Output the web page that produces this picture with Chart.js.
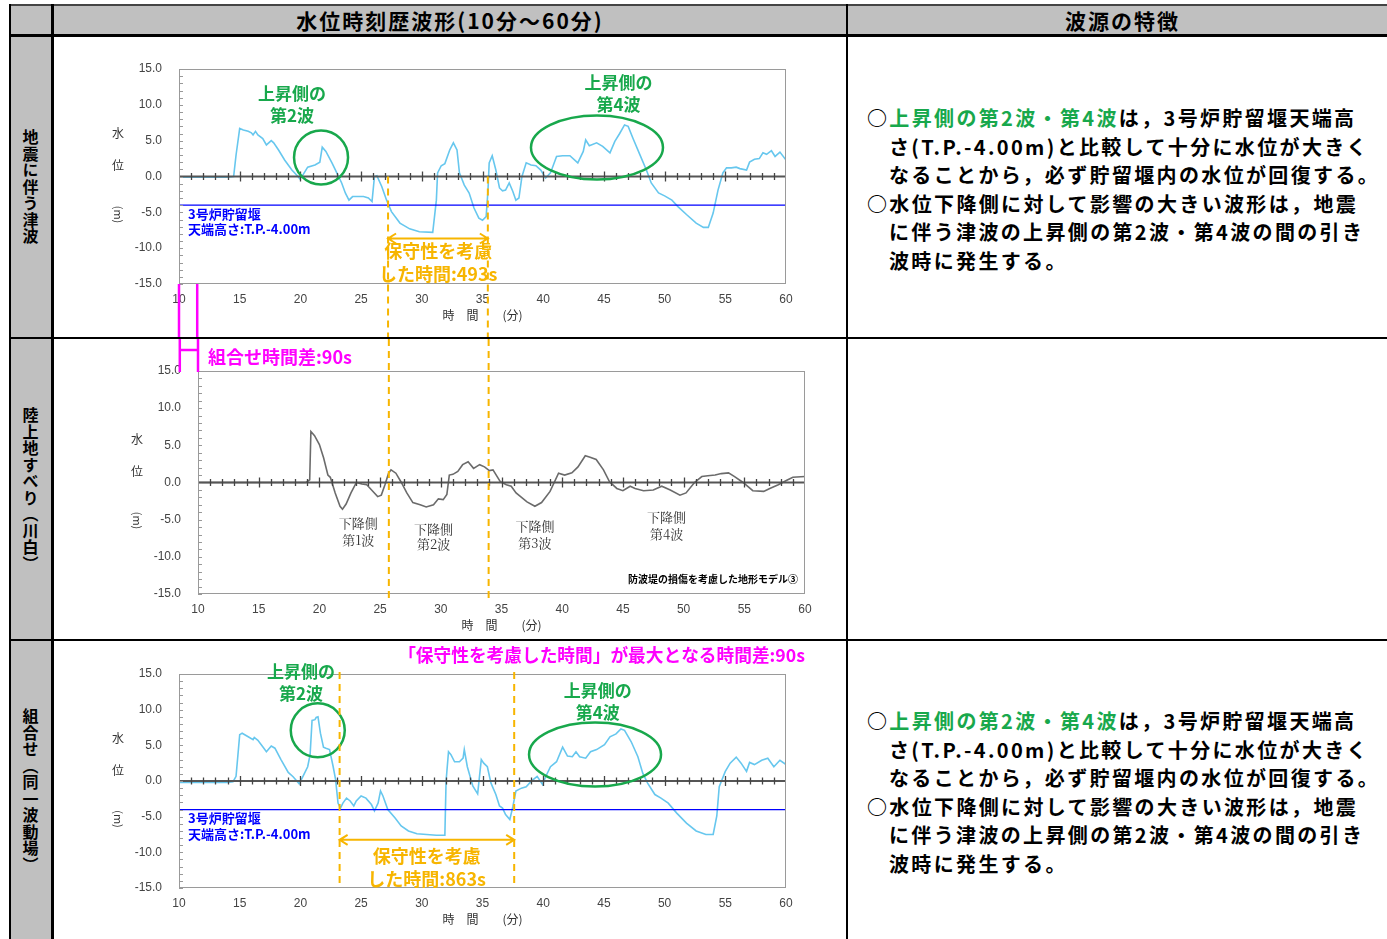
<!DOCTYPE html>
<html lang="ja">
<head>
<meta charset="utf-8">
<script src="https://cdn.jsdelivr.net/npm/chart.js@4.4.1/dist/chart.umd.min.js"></script>
<style>
body{margin:0;width:1387px;height:939px;overflow:hidden;background:#fff;position:relative;font-family:"Noto Sans CJK JP",sans-serif}
.fill{position:absolute;background:#c0c0c0}
.ln{position:absolute;background:#000;z-index:5}
.hd{position:absolute;top:5px;height:30px;line-height:30px;text-align:center;font-weight:700;font-size:21px;letter-spacing:2px;color:#000}
.side{position:absolute;left:9px;width:43px;display:flex;align-items:center;justify-content:center}
.side span{writing-mode:vertical-rl;font-weight:700;font-size:16px;letter-spacing:0.5px;color:#000}
.note{position:absolute;left:867px;font-weight:700;font-size:20px;letter-spacing:2.35px;line-height:28.6px;white-space:nowrap;color:#000}
.note p{margin:0;padding-left:22px;text-indent:-22px}
.g{color:#18a84c}
canvas{position:absolute;left:54px}
</style>
</head>
<body>
<div class="fill" style="left:9px;top:4px;width:1378px;height:32px"></div>
<div class="fill" style="left:9px;top:4px;width:44px;height:935px"></div>

<div class="hd" style="left:54px;width:792px">水位時刻歴波形(10分～60分)</div>
<div class="hd" style="left:848px;width:549px">波源の特徴</div>

<div class="side" style="top:37px;height:300px"><span>地震に伴う津波</span></div>
<div class="side" style="top:339px;height:300px"><span>陸上地すべり（川白）</span></div>
<div class="side" style="top:641px;height:298px"><span>組合せ（同一波動場）</span></div>

<div class="note" style="top:104px">
<p>○<span class="g">上昇側の第2波・第4波</span>は，3号炉貯留堰天端高<br>さ(T.P.-4.00m)と比較して十分に水位が大きく<br>なることから，必ず貯留堰内の水位が回復する。</p>
<p>○水位下降側に対して影響の大きい波形は，地震<br>に伴う津波の上昇側の第2波・第4波の間の引き<br>波時に発生する。</p>
</div>
<div class="note" style="top:707px">
<p>○<span class="g">上昇側の第2波・第4波</span>は，3号炉貯留堰天端高<br>さ(T.P.-4.00m)と比較して十分に水位が大きく<br>なることから，必ず貯留堰内の水位が回復する。</p>
<p>○水位下降側に対して影響の大きい波形は，地震<br>に伴う津波の上昇側の第2波・第4波の間の引き<br>波時に発生する。</p>
</div>

<canvas id="c1" width="792" height="300" style="top:37px"></canvas>
<canvas id="c2" width="792" height="300" style="top:339px"></canvas>
<canvas id="c3" width="792" height="298" style="top:641px"></canvas>

<div class="ln" style="left:9px;top:4px;width:1378px;height:2px;background:#444"></div>
<div class="ln" style="left:9px;top:4px;width:2px;height:935px"></div>
<div class="ln" style="left:51px;top:4px;width:3px;height:935px"></div>
<div class="ln" style="left:846px;top:4px;width:2px;height:935px"></div>
<div class="ln" style="left:9px;top:34px;width:1378px;height:3px"></div>
<div class="ln" style="left:9px;top:337px;width:1378px;height:2px"></div>
<div class="ln" style="left:9px;top:639px;width:1378px;height:2px"></div>

<script>
// tick values
const xTicks = [10, 15, 20, 25, 30, 35, 40, 45, 50, 55, 60];
const yTicks = [-15, -10, -5, 0, 5, 10, 15];

// reference lines (time in min, level in m)
const baseT = [10, 60];
const zeroH = [0, 0];
const weirH = [-4, -4];   // 3号炉貯留堰 天端高さ T.P.-4.00m

// 地震に伴う津波
const eqT = [10, 11, 12, 13, 14, 14.5, 14.7, 15.0, 15.3, 15.7, 15.96, 16.1, 16.3, 16.5, 16.9, 17.2, 17.6, 17.8, 18.2, 18.7,
  19.3, 19.8, 19.95, 20.2, 20.6, 21.2, 21.6, 21.8, 22.1, 22.6, 23.0, 23.4, 23.7, 24.0, 24.3, 25.2, 25.6, 25.9, 26.1, 26.3,
  26.7, 27.1, 27.5, 28.2, 29.0, 29.8, 30.9, 31.2, 31.3, 31.6, 31.9, 32.3, 32.6, 32.9, 33.1, 33.5, 33.9, 34.3, 34.7, 35.0,
  35.3, 35.45, 35.55, 35.8, 36.1, 36.4, 36.65, 36.9, 37.2, 37.5, 37.75, 38.0, 38.25, 38.6, 39.0, 39.4, 39.8, 40.2, 40.6, 41.1,
  41.6, 42.2, 42.85, 43.3, 43.5, 43.8, 44.4, 44.9, 45.5, 45.9, 46.3, 46.7, 47.0, 47.4, 47.9, 48.5, 48.9, 49.5, 50.0, 50.6,
  51.1, 51.8, 52.6, 53.2, 53.6, 54.0, 54.4, 54.8, 55.1, 55.5, 55.9, 56.2, 56.75, 57.0, 57.4, 57.8, 58.1, 58.4, 58.8, 59.1,
  59.5, 60];
const eqH = [-0.1, -0.1, -0.1, -0.1, -0.1, 0, 3.0, 6.7, 6.5, 6.3, 6.1, 5.8, 6.3, 5.8, 5.3, 4.4, 5.0, 4.7, 3.7, 2.3,
  0.9, 0, -0.3, 0.2, 1.3, 1.6, 2.0, 4.1, 3.5, 1.9, 0.5, -0.9, -2.3, -3.3, -2.8, -2.8, -3.0, -3.5, 0, 0.1,
  -1.4, -3.3, -4.9, -6.5, -7.3, -7.7, -7.8, -3.3, 0.5, 1.5, 1.8, 3.7, 4.7, 3.7, 0.5, -1.2, -2.3, -4.4, -5.8, -6.1,
  -5.6, -2.0, 1.9, 2.9, 0.9, -1.6, -2.0, -1.9, -0.9, -2.1, -3.3, -3.0, 0, 1.9, 1.6, 1.5, 0.9, -0.2, 0.5, 2.8,
  2.9, 2.9, 1.9, 3.5, 5.1, 4.3, 4.7, 4.2, 3.3, 4.9, 6.0, 7.2, 7.0, 5.3, 3.3, 0.9, -0.9, -2.3, -2.7, -3.3,
  -4.2, -5.3, -6.5, -7.1, -7.1, -5.1, -1.9, 0.5, 1.2, 1.2, 1.3, 1.1, 0.9, 2.0, 2.4, 2.5, 3.3, 3.1, 3.6, 2.8,
  3.4, 2.3];

// 陸上地すべり（川白）
const lsT = [10, 12, 14, 16, 18, 18.9, 19.2, 19.3, 19.6, 20.0, 20.35, 20.7, 20.9, 21.3, 21.7, 21.9, 22.2, 22.6, 23.05, 23.5,
  23.9, 24.3, 24.8, 25.1, 25.4, 25.7, 25.9, 26.3, 26.75, 27.2, 27.7, 28.3, 28.8, 29.4, 29.8, 30.2, 30.5, 30.7, 31.0, 31.4,
  31.8, 32.25, 32.7, 33.2, 33.6, 34.0, 34.3, 34.9, 35.4, 35.8, 36.2, 37.1, 37.75, 38.3, 39.0, 39.7, 40.2, 40.8, 41.3, 41.9,
  42.3, 42.8, 43.4, 43.9, 44.5, 45.0, 45.6, 46.0, 46.7, 47.5, 48.2, 48.9, 49.7, 50.2, 50.9, 51.5, 52.0, 52.6, 53.1, 53.7,
  54.2, 54.9, 55.7, 56.6, 57.1, 57.8, 58.5, 59.0, 60];
const lsH = [0, 0, 0, 0, 0, 0, 0.35, 6.85, 6.3, 5.1, 3.3, 1.0, 0.7, -1.4, -3.2, -3.6, -2.9, -1.4, 0, -0.2,
  -0.3, -1.0, -1.9, -1.7, -0.3, 1.25, 1.7, 1.25, 0, -1.4, -2.7, -3.0, -3.3, -3.0, -2.2, -2.3, -1.6, 1.0, 1.1, 1.5,
  2.4, 2.8, 1.9, 2.4, 2.1, 1.6, 1.7, 0.1, -0.3, -0.5, -1.4, -2.6, -3.2, -2.7, -1.2, 1.25, 1.0, 1.3, 2.1, 3.6,
  3.4, 3.1, 1.7, 0.1, -0.8, -1.1, -0.5, -0.8, -1.1, -1.0, -0.5, -1.0, -1.7, -1.4, 0, 0.8, 0.9, 1.0, 1.2, 1.3,
  0.8, 0, -1.1, -1.2, -0.8, -0.3, 0.3, 0.7, 0.8];

// 組合せ（同一波動場）
const cbT = [10, 12, 14, 14.45, 14.7, 15.0, 15.2, 15.7, 16.1, 16.2, 16.5, 16.9, 17.2, 17.6, 17.9, 18.4, 19.0, 19.4, 19.9, 20.2,
  20.6, 20.8, 20.96, 21.2, 21.3, 21.45, 21.65, 21.9, 22.1, 22.4, 22.7, 22.9, 23.1, 23.3, 23.5, 23.8, 24.1, 24.4, 24.6, 25.0,
  25.4, 25.85, 26.1, 26.4, 26.6, 26.8, 27.2, 27.8, 28.3, 28.9, 29.6, 30.4, 31.2, 31.9, 32.0, 32.2, 32.4, 32.7, 33.1, 33.4,
  33.5, 33.75, 34.2, 34.6, 34.9, 35.1, 35.4, 35.7, 36.1, 36.4, 36.65, 36.9, 37.25, 37.5, 37.75, 38.2, 38.6, 39.0, 39.5, 39.95,
  40.2, 40.6, 41.1, 41.6, 42.0, 42.4, 42.7, 43.0, 43.5, 43.9, 44.4, 45.05, 45.5, 46.0, 46.4, 46.7, 47.25, 47.8, 48.2, 48.6,
  49.2, 49.7, 50.3, 51.0, 51.8, 52.6, 53.4, 54.0, 54.3, 54.5, 55.0, 55.4, 55.9, 56.3, 56.75, 57.0, 57.4, 58.0, 58.5, 59.0,
  59.5, 60];
const cbH = [-0.2, -0.2, -0.2, -0.1, 0.65, 6.5, 6.7, 6.2, 5.8, 6.1, 5.7, 4.8, 4.1, 4.9, 4.6, 3.0, 1.2, 0.6, -0.4, 0.6,
  2.0, 3.7, 8.5, 8.6, 8.9, 9.0, 6.7, 4.75, 4.6, 4.4, 2.0, 0.2, -3.1, -3.8, -3.1, -2.4, -2.8, -3.5, -2.8, -2.1,
  -2.4, -3.3, -4.2, -3.1, -1.4, -2.1, -4.0, -5.2, -6.3, -7.0, -7.4, -7.5, -7.6, -7.6, 0, 4.1, 3.7, 2.7, 2.7, 3.2,
  4.4, 2.0, -0.7, -1.8, 3.0, 2.5, 2.0, -0.3, -1.9, -3.5, -3.8, -4.7, -5.4, -3.6, -1.4, -1.0, -0.8, -0.05, 0.65, -0.5,
  0.6, 2.0, 2.7, 4.75, 3.5, 3.4, 4.1, 3.4, 3.2, 4.1, 4.4, 5.1, 6.2, 6.6, 7.3, 7.1, 5.5, 3.4, 1.1, -0.3,
  -1.9, -2.4, -3.1, -4.5, -5.9, -7.0, -7.5, -7.5, -4.9, -0.8, 1.35, 2.5, 3.35, 2.5, 1.35, 2.6, 2.3, 2.9, 3.2, 2.0,
  2.9, 2.3];

// 保守性を考慮した時間 (min): 493 s / 863 s, 組合せ時間差 90 s
const eqWindow = [27.22, 35.44];
const lsWindow = [25.72, 33.94];
const cbWindow = [23.23, 37.61];
const lagMarks = [10, 11.5];

const GREEN = '#18a84c', ORANGE = '#f7b500', MAGENTA = '#ff00ff', BLUE = '#0000ff';
const JP = '"Noto Sans CJK JP", sans-serif';
const pts = (t, h) => t.map((x, i) => ({ x, y: h[i] }));

// position helper: number = data value, [edge, offset] = pixel from an edge
function pos(chart, axis, v) {
  if (typeof v === 'number') return chart.scales[axis].getPixelForValue(v);
  const a = chart.chartArea;
  const base = { top: a.top, bottom: a.bottom, left: a.left, right: a.right, ctop: 0, cbottom: chart.height }[v[0]];
  return base + v[1];
}

function overlay(items) {
  return {
    id: 'overlay',
    afterDatasetsDraw(chart) {
      const ctx = chart.ctx, a = chart.chartArea, xs = chart.scales.x, ys = chart.scales.y;
      ctx.save();
      ctx.strokeStyle = '#9a9a9a'; ctx.lineWidth = 1;
      ctx.strokeRect(a.left + 0.5, a.top + 0.5, a.width - 1, a.height - 1);
      // minor ticks inside the left frame
      ctx.strokeStyle = '#999';
      for (let v = -15; v <= 15; v++) {
        const y = Math.round(ys.getPixelForValue(v)) + 0.5;
        ctx.beginPath(); ctx.moveTo(a.left, y); ctx.lineTo(a.left + 4, y); ctx.stroke();
      }
      // minute ticks on the zero line
      const y0 = ys.getPixelForValue(0);
      ctx.strokeStyle = '#444'; ctx.lineWidth = 1.3;
      for (let m = 11; m < 60; m++) {
        const x = Math.round(xs.getPixelForValue(m)) + 0.5, h = m % 5 === 0 ? 5 : 3.5;
        ctx.beginPath(); ctx.moveTo(x, y0 - h); ctx.lineTo(x, y0 + h); ctx.stroke();
      }
      // y axis title 水 位 (m)
      ctx.fillStyle = '#333'; ctx.textAlign = 'center'; ctx.textBaseline = 'middle';
      ctx.font = '12px ' + JP;
      const tx = a.left - 61;
      ctx.fillText('水', tx, y0 - 43);
      ctx.fillText('位', tx, y0 - 11);
      ctx.save(); ctx.translate(tx, y0 + 38); ctx.rotate(Math.PI / 2);
      ctx.font = '11px ' + JP; ctx.fillText('(m)', 0, 0); ctx.restore();

      items.forEach(it => {
        ctx.strokeStyle = it.color; ctx.fillStyle = it.color;
        ctx.lineWidth = it.width || 2; ctx.setLineDash(it.dash || []);
        if (it.type === 'ellipse') {
          ctx.beginPath();
          ctx.ellipse(pos(chart, 'x', it.x), pos(chart, 'y', it.y), it.rx, it.ry, 0, 0, Math.PI * 2);
          ctx.stroke();
        } else if (it.type === 'vline') {
          const x = pos(chart, 'x', it.x);
          ctx.beginPath(); ctx.moveTo(x, pos(chart, 'y', it.y1)); ctx.lineTo(x, pos(chart, 'y', it.y2)); ctx.stroke();
        } else if (it.type === 'hline') {
          const y = pos(chart, 'y', it.y);
          ctx.beginPath(); ctx.moveTo(pos(chart, 'x', it.x1), y); ctx.lineTo(pos(chart, 'x', it.x2), y); ctx.stroke();
        } else if (it.type === 'arrow') {
          const y = pos(chart, 'y', it.y), x1 = pos(chart, 'x', it.x1), x2 = pos(chart, 'x', it.x2);
          ctx.beginPath(); ctx.moveTo(x1, y); ctx.lineTo(x2, y);
          ctx.moveTo(x1 + 8, y - 5); ctx.lineTo(x1, y); ctx.lineTo(x1 + 8, y + 5);
          ctx.moveTo(x2 - 8, y - 5); ctx.lineTo(x2, y); ctx.lineTo(x2 - 8, y + 5);
          ctx.stroke();
        } else if (it.type === 'text') {
          ctx.font = it.font; ctx.textAlign = it.align || 'center'; ctx.textBaseline = 'middle';
          ctx.fillText(it.text, pos(chart, 'x', it.x), pos(chart, 'y', it.y));
        }
      });
      ctx.restore();
    }
  };
}

function waveChart(id, cfg) {
  const tickFont = { family: '"Liberation Sans", sans-serif', size: 12 };
  const sets = [{ data: pts(baseT, zeroH), borderColor: '#555', borderWidth: 2, pointRadius: 0 }];
  if (cfg.weir) sets.push({ data: pts(baseT, weirH), borderColor: BLUE, borderWidth: 1.3, pointRadius: 0 });
  sets.push({ data: pts(cfg.t, cfg.h), borderColor: cfg.color, borderWidth: 1.6, pointRadius: 0, tension: 0 });
  return new Chart(document.getElementById(id), {
    type: 'line',
    data: { datasets: sets },
    options: {
      responsive: false, animation: false, devicePixelRatio: 1,
      layout: { padding: cfg.pad },
      plugins: { legend: { display: false }, tooltip: { enabled: false } },
      scales: {
        x: {
          type: 'linear', min: 10, max: 60,
          afterBuildTicks: s => { s.ticks = xTicks.map(v => ({ value: v })); },
          afterFit: s => { s.height = 43; },
          grid: { display: false, drawTicks: false }, border: { display: false },
          ticks: { padding: 8, font: tickFont, color: '#444', maxRotation: 0, autoSkip: false },
          title: { display: true, text: '時　間　　(分)', font: { family: JP, size: 12 }, color: '#333', padding: { top: 0, bottom: 4 } }
        },
        y: {
          type: 'linear', min: -15, max: 15,
          afterBuildTicks: s => { s.ticks = yTicks.map(v => ({ value: v })); },
          afterFit: s => { s.width = 50; },
          grid: { display: false, drawTicks: false }, border: { display: false },
          ticks: { padding: 17, font: tickFont, color: '#444', callback: v => v.toFixed(1) }
        }
      }
    },
    plugins: [overlay(cfg.items)]
  });
}

const bold = n => 'bold ' + n + 'px ' + JP;

// 地震に伴う津波
waveChart('c1', {
  t: eqT, h: eqH, color: '#67c7ee', weir: true,
  pad: { left: 75, right: 60, top: 32, bottom: 10 },
  items: [
    { type: 'ellipse', x: 21.7, y: 2.65, rx: 27, ry: 27, color: GREEN, width: 2.5 },
    { type: 'ellipse', x: 44.43, y: 4.05, rx: 66, ry: 32, color: GREEN, width: 2.5 },
    { type: 'text', text: '上昇側の', x: 19.3, y: 11.6, font: bold(17), color: GREEN },
    { type: 'text', text: '第2波', x: 19.3, y: 8.5, font: bold(17), color: GREEN },
    { type: 'text', text: '上昇側の', x: 46.2, y: 13.1, font: bold(17), color: GREEN },
    { type: 'text', text: '第4波', x: 46.2, y: 10.0, font: bold(17), color: GREEN },
    { type: 'text', text: '3号炉貯留堰', x: 10.75, y: -5.2, align: 'left', font: bold(13), color: BLUE },
    { type: 'text', text: '天端高さ:T.P.-4.00m', x: 10.75, y: -7.4, align: 'left', font: bold(13), color: BLUE },
    { type: 'vline', x: eqWindow[0], y1: 0, y2: ['cbottom', 0], color: ORANGE, width: 2, dash: [7, 5] },
    { type: 'vline', x: eqWindow[1], y1: 0, y2: ['cbottom', 0], color: ORANGE, width: 2, dash: [7, 5] },
    { type: 'arrow', x1: eqWindow[0], x2: eqWindow[1], y: -8.65, color: ORANGE, width: 2 },
    { type: 'text', text: '保守性を考慮', x: 31.35, y: -10.4, font: bold(18), color: ORANGE },
    { type: 'text', text: 'した時間:493s', x: 31.35, y: -13.6, font: bold(18), color: ORANGE },
    { type: 'vline', x: lagMarks[0], y1: ['bottom', 0], y2: ['cbottom', 0], color: MAGENTA, width: 2.5 },
    { type: 'vline', x: lagMarks[1], y1: ['bottom', 0], y2: ['cbottom', 0], color: MAGENTA, width: 2.5 }
  ]
});

// 陸上地すべり（川白）
const serif = '13px "Noto Serif CJK JP", "Noto Sans CJK JP", serif';
waveChart('c2', {
  t: lsT, h: lsH, color: '#6b6b6b', weir: false,
  pad: { left: 94, right: 41, top: 32, bottom: 2 },
  items: [
    { type: 'vline', x: lsWindow[0], y1: ['ctop', 0], y2: ['bottom', 4], color: ORANGE, width: 2, dash: [7, 5] },
    { type: 'vline', x: lsWindow[1], y1: ['ctop', 0], y2: ['bottom', 4], color: ORANGE, width: 2, dash: [7, 5] },
    { type: 'vline', x: lagMarks[0] - 1.5, y1: ['ctop', 0], y2: ['top', 1], color: MAGENTA, width: 2.5 },
    { type: 'vline', x: lagMarks[1] - 1.5, y1: ['ctop', 0], y2: ['top', 1], color: MAGENTA, width: 2.5 },
    { type: 'hline', x1: lagMarks[0] - 1.5, x2: lagMarks[1] - 1.5, y: ['ctop', 11], color: MAGENTA, width: 2.5 },
    { type: 'text', text: '組合せ時間差:90s', x: ['left', 10], y: ['ctop', 18], align: 'left', font: bold(18), color: MAGENTA },
    { type: 'text', text: '下降側', x: 23.2, y: -5.5, font: serif, color: '#333' },
    { type: 'text', text: '第1波', x: 23.2, y: -7.7, font: serif, color: '#333' },
    { type: 'text', text: '下降側', x: 29.4, y: -6.2, font: serif, color: '#333' },
    { type: 'text', text: '第2波', x: 29.4, y: -8.3, font: serif, color: '#333' },
    { type: 'text', text: '下降側', x: 37.75, y: -5.9, font: serif, color: '#333' },
    { type: 'text', text: '第3波', x: 37.75, y: -8.1, font: serif, color: '#333' },
    { type: 'text', text: '下降側', x: 48.6, y: -4.7, font: serif, color: '#333' },
    { type: 'text', text: '第4波', x: 48.6, y: -6.9, font: serif, color: '#333' },
    { type: 'text', text: '防波堤の損傷を考慮した地形モデル③', x: ['right', -7], y: ['bottom', -15], align: 'right', font: bold(10), color: '#000' }
  ]
});

// 組合せ（同一波動場）
waveChart('c3', {
  t: cbT, h: cbH, color: '#67c7ee', weir: true,
  pad: { left: 75, right: 60, top: 33, bottom: 8 },
  items: [
    { type: 'text', text: '「保守性を考慮した時間」が最大となる時間差:90s', x: ['right', 19], y: ['ctop', 14], align: 'right', font: bold(17.7), color: MAGENTA },
    { type: 'ellipse', x: 21.43, y: 7.1, rx: 27, ry: 27, color: GREEN, width: 2.5 },
    { type: 'ellipse', x: 44.27, y: 3.7, rx: 66, ry: 32, color: GREEN, width: 2.5 },
    { type: 'text', text: '上昇側の', x: 20.05, y: 15.4, font: bold(17), color: GREEN },
    { type: 'text', text: '第2波', x: 20.05, y: 12.3, font: bold(17), color: GREEN },
    { type: 'text', text: '上昇側の', x: 44.5, y: 12.7, font: bold(17), color: GREEN },
    { type: 'text', text: '第4波', x: 44.5, y: 9.65, font: bold(17), color: GREEN },
    { type: 'text', text: '3号炉貯留堰', x: 10.75, y: -5.2, align: 'left', font: bold(13), color: BLUE },
    { type: 'text', text: '天端高さ:T.P.-4.00m', x: 10.75, y: -7.4, align: 'left', font: bold(13), color: BLUE },
    { type: 'vline', x: cbWindow[0], y1: ['top', -2], y2: ['bottom', -4], color: ORANGE, width: 2, dash: [7, 5] },
    { type: 'vline', x: cbWindow[1], y1: ['top', -2], y2: ['bottom', -4], color: ORANGE, width: 2, dash: [7, 5] },
    { type: 'arrow', x1: cbWindow[0], x2: cbWindow[1], y: -8.25, color: ORANGE, width: 2 },
    { type: 'text', text: '保守性を考慮', x: 30.4, y: -10.6, font: bold(18), color: ORANGE },
    { type: 'text', text: 'した時間:863s', x: 30.4, y: -13.7, font: bold(18), color: ORANGE }
  ]
});
</script>
</body>
</html>
